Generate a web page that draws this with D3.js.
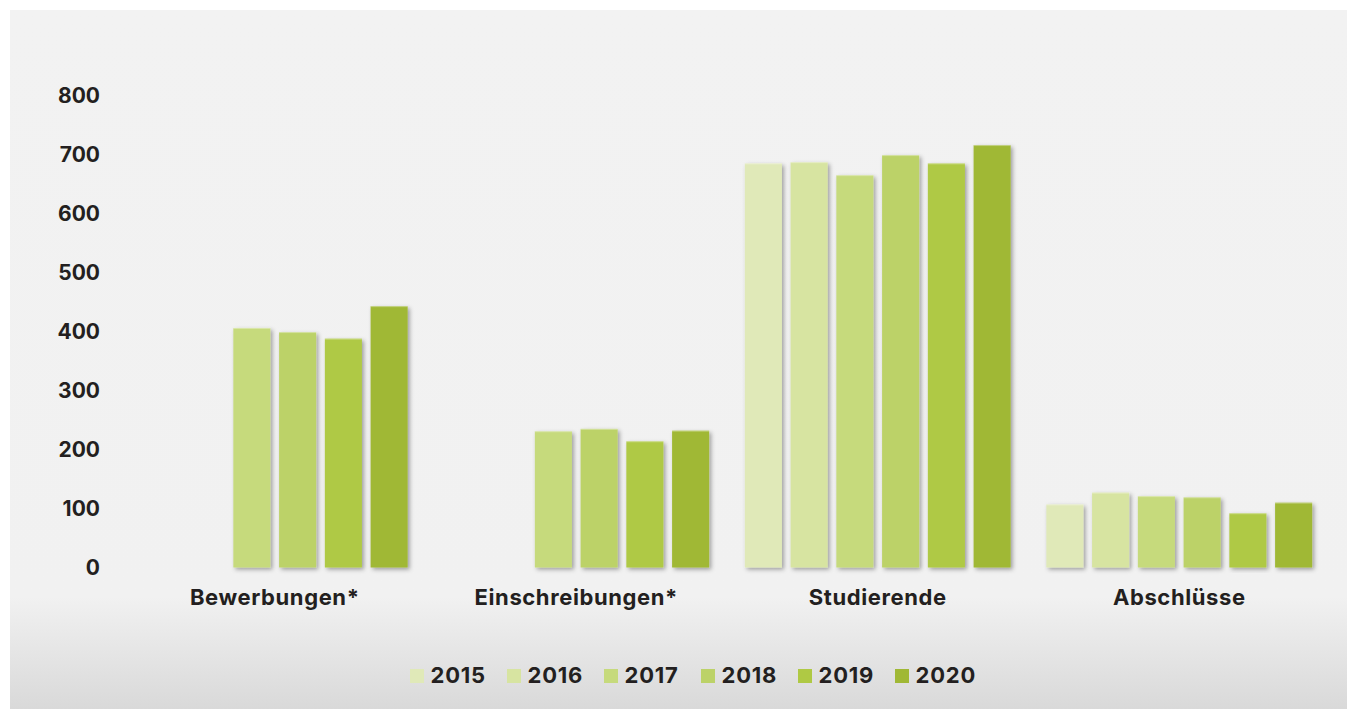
<!DOCTYPE html>
<html>
<head>
<meta charset="utf-8">
<script src="https://cdn.jsdelivr.net/npm/d3@7"></script>
<style>
body { margin: 0; background: #fff; }
text { font-family: Inter, "Liberation Sans", sans-serif; font-weight: 700; fill: #231f20; }
</style>
</head>
<body>
<svg id="chart" width="1347" height="709"></svg>
<script>
// values, null = no bar
var categories = ['Bewerbungen*', 'Einschreibungen*', 'Studierende', 'Abschlüsse'];
var years = ['2015', '2016', '2017', '2018', '2019', '2020'];
var colors = ['#e0e9b8', '#d7e4a1', '#c6da7c', '#bcd268', '#afc944', '#a0b835'];
var bewerbungen = [null, null, 406, 399, 388, 443];
var einschreibungen = [null, null, 231, 235, 214, 232];
var studierende = [685, 687, 665, 699, 685, 716];
var abschluesse = [107, 127, 121, 119, 92, 110];
var yTicks = [0, 100, 200, 300, 400, 500, 600, 700, 800];

var series = [bewerbungen, einschreibungen, studierende, abschluesse];

var svg = d3.select('#chart');

var defs = svg.append('defs');
var grad = defs.append('linearGradient')
    .attr('id', 'bg').attr('x1', 0).attr('y1', 0).attr('x2', 0).attr('y2', 1);
grad.append('stop').attr('offset', 0).attr('stop-color', '#f2f2f2');
grad.append('stop').attr('offset', 0.84).attr('stop-color', '#f1f1f1');
grad.append('stop').attr('offset', 1).attr('stop-color', '#d9d9d9');

var shadow = defs.append('filter').attr('id', 'shadow')
    .attr('x', '-20%').attr('y', '-5%').attr('width', '150%').attr('height', '115%');
shadow.append('feDropShadow')
    .attr('dx', 2).attr('dy', 2).attr('stdDeviation', 2.2)
    .attr('flood-color', '#000').attr('flood-opacity', 0.35);

svg.append('rect')
    .attr('x', 10).attr('y', 10)
    .attr('width', 1337).attr('height', 699)
    .attr('fill', 'url(#bg)');

var x0 = d3.scaleBand().domain(categories).range([124, 1330]);
var x1 = d3.scaleBand().domain(years).range([0, x0.bandwidth()])
    .paddingInner(0.19).paddingOuter(0.39);
var y = d3.scaleLinear().domain([0, 800]).range([567.5, 95.5]);
var color = d3.scaleOrdinal().domain(years).range(colors);

// y axis labels only
var yAxis = svg.append('g')
    .attr('transform', 'translate(100,0)')
    .call(d3.axisLeft(y).tickValues(yTicks).tickSize(0).tickPadding(0));
yAxis.select('.domain').remove();
yAxis.selectAll('text')
    .attr('font-size', 21)
    .attr('font-family', null);

// bars
var groups = svg.selectAll('g.cat')
    .data(categories.map(function(c, i) { return {cat: c, vals: series[i]}; }))
    .enter().append('g')
    .attr('class', 'cat')
    .attr('transform', function(d) { return 'translate(' + x0(d.cat) + ',0)'; });

function barData(d) {
    return years.map(function(yr, j) { return {year: yr, value: d.vals[j]}; })
        .filter(function(e) { return e.value != null; });
}

groups.selectAll('rect')
    .data(barData)
    .enter().append('rect')
    .attr('x', function(d) { return x1(d.year); })
    .attr('y', function(d) { return y(d.value); })
    .attr('width', x1.bandwidth())
    .attr('height', function(d) { return y(0) - y(d.value); })
    .attr('fill', function(d) { return color(d.year); })
    .attr('filter', 'url(#shadow)');

// thin highlight along bar tops
groups.selectAll('line.top')
    .data(barData)
    .enter().append('line')
    .attr('class', 'top')
    .attr('x1', function(d) { return x1(d.year); })
    .attr('x2', function(d) { return x1(d.year) + x1.bandwidth(); })
    .attr('y1', function(d) { return y(d.value) + 0.5; })
    .attr('y2', function(d) { return y(d.value) + 0.5; })
    .attr('stroke', '#fff').attr('stroke-opacity', 0.35);

// category labels
var xAxis = svg.append('g')
    .attr('transform', 'translate(0,568)')
    .call(d3.axisBottom(x0).tickSize(0).tickPadding(22));
xAxis.select('.domain').remove();
xAxis.selectAll('text')
    .attr('font-size', 22)
    .attr('letter-spacing', 0.6)
    .attr('dy', '0.68em')
    .attr('font-family', null);

// legend
var legend = svg.append('g').attr('transform', 'translate(410,669)');
var items = legend.selectAll('g')
    .data(years)
    .enter().append('g')
    .attr('transform', function(d, i) { return 'translate(' + i * 97 + ',0)'; });
items.append('rect')
    .attr('width', 14).attr('height', 14)
    .attr('fill', function(d) { return color(d); });
items.append('text')
    .attr('x', 20.5).attr('y', 13.5)
    .attr('font-size', 22)
    .attr('letter-spacing', 0.8)
    .text(function(d) { return d; });
</script>
</body>
</html>
